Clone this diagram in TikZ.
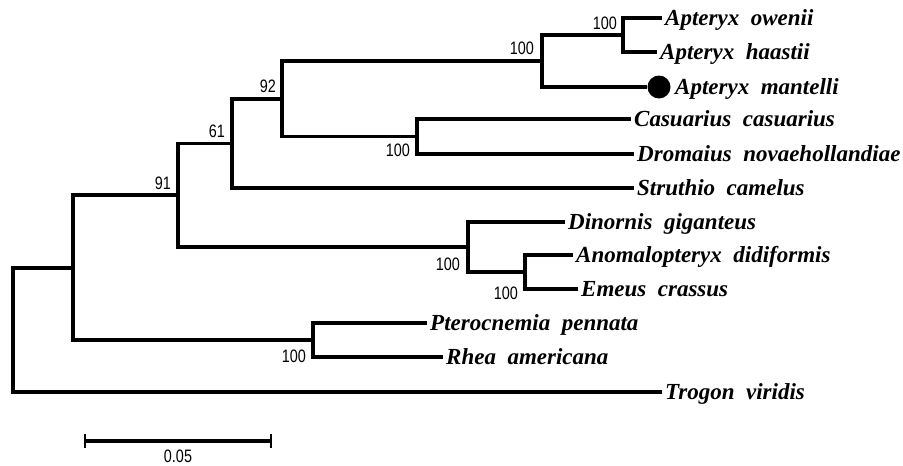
\documentclass[tikz,border=0pt]{standalone}
\usepackage{fontspec}
\setmainfont{Liberation Serif}
\newfontfamily\numfont[FakeStretch=0.8]{Liberation Sans}
\begin{document}
\begin{tikzpicture}[x=1pt,y=-1pt,
  br/.style={line width=3.3pt, line join=miter},
  leaf/.style={anchor=west, inner xsep=3pt, inner ysep=0pt, text height=15pt, text depth=0pt,
    font=\fontsize{23}{23}\selectfont\bfseries\itshape},
  bs/.style={font=\numfont\fontsize{18}{18}\selectfont, inner sep=0pt}]
\useasboundingbox (0,0) rectangle (903,466);
% internal nodes
\coordinate (root) at (13,330);
\coordinate (n73) at (73,268);
\coordinate (n91) at (178,195);
\coordinate (n61) at (232,143.5);
\coordinate (n92) at (282,99);
\coordinate (napt) at (542,61);
\coordinate (now) at (623,35);
\coordinate (ncd) at (417,136.5);
\coordinate (nmoa) at (468,247);
\coordinate (nmoa2) at (525,272);
\coordinate (nrh) at (313,340);
% leaves
\node[leaf] (owenii) at (662,18) {Apteryx\ \ owenii};
\node[leaf] (haastii) at (657,52) {Apteryx\ \ haastii};
\node[circle, fill, inner sep=0pt, minimum size=23pt] (dot) at (659,87) {};
\node[leaf] (mantelli) at (672,87) {Apteryx\ \ mantelli};
\node[leaf] (casu) at (631,119) {Casuarius\ \ casuarius};
\node[leaf] (drom) at (634,154) {Dromaius\ \ novaehollandiae};
\node[leaf] (stru) at (634,188) {Struthio\ \ camelus};
\node[leaf] (dino) at (565,222) {Dinornis\ \ giganteus};
\node[leaf] (anom) at (573,255) {Anomalopteryx\ \ didiformis};
\node[leaf] (emeu) at (578,289) {Emeus\ \ crassus};
\node[leaf] (pter) at (427,323) {Pterocnemia\ \ pennata};
\node[leaf] (rhea) at (443,357) {Rhea\ \ americana};
\node[leaf] (trog) at (662,392) {Trogon\ \ viridis};
% branches
\draw[br] (root) |- (n73);
\draw[br] (root) |- (trog.west);
\draw[br] (n73) |- (n91);
\draw[br] (n73) |- (nrh);
\draw[br] (nrh) |- (pter.west);
\draw[br] (nrh) |- (rhea.west);
\draw[br] (n91) |- (n61);
\draw[br] (n91) |- (nmoa);
\draw[br] (nmoa) |- (dino.west);
\draw[br] (nmoa) |- (nmoa2);
\draw[br] (nmoa2) |- (anom.west);
\draw[br] (nmoa2) |- (emeu.west);
\draw[br] (n61) |- (n92);
\draw[br] (n61) |- (stru.west);
\draw[br] (n92) |- (napt);
\draw[br] (n92) |- (ncd);
\draw[br] (ncd) |- (casu.west);
\draw[br] (ncd) |- (drom.west);
\draw[br] (napt) |- (now);
\draw[br] (napt) |- (dot.west);
\draw[br] (now) |- (owenii.west);
\draw[br] (now) |- (haastii.west);
% bootstrap values
\node[bs, anchor=east] (b1) at (617,23) {100};
\node[bs, anchor=east] (b2) at (534,48) {100};
\node[bs, anchor=east] (b3) at (276,86) {92};
\node[bs, anchor=east] (b4) at (225,131) {61};
\node[bs, anchor=east] (b5) at (171,183) {91};
\node[bs, anchor=east] (b6) at (410,150) {100};
\node[bs, anchor=east] (b7) at (460,264) {100};
\node[bs, anchor=east] (b8) at (518,293) {100};
\node[bs, anchor=east] (b9) at (306,356) {100};
% scale bar
\coordinate (s1) at (85,441);
\coordinate (s2) at (271,441);
\draw[br] (s1) -- (s2);
\draw[line width=2.8pt] ([yshift=7pt]s1) -- ([yshift=-7pt]s1);
\draw[line width=2.8pt] ([yshift=7pt]s2) -- ([yshift=-7pt]s2);
\node[bs, anchor=north] (sbl) at (178,450) {0.05};
\end{tikzpicture}
\end{document}
